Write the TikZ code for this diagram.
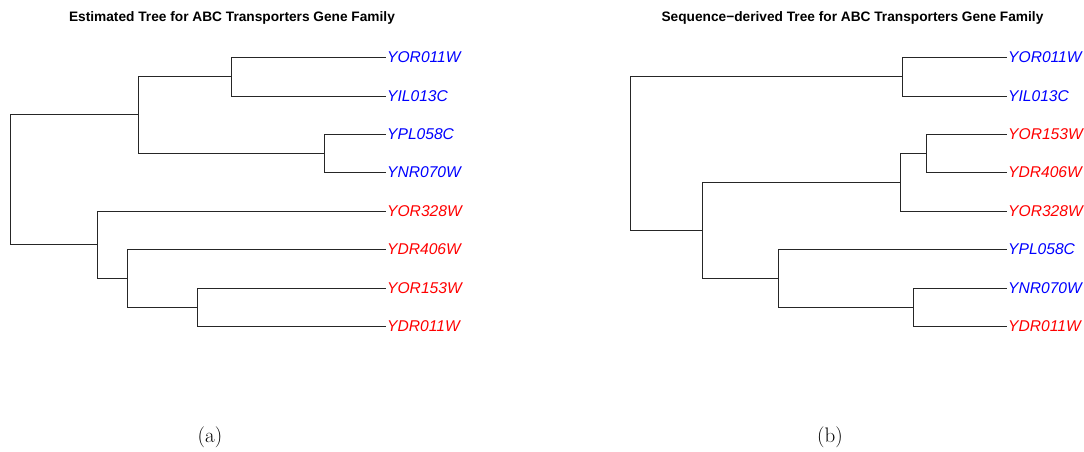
\documentclass[tikz,border=0pt]{standalone}
\usepackage{fontspec}
\newfontfamily\arialfont{Liberation Sans}
\definecolor{lblue}{RGB}{0,0,255}
\definecolor{lred}{RGB}{255,0,0}
\begin{document}
\begin{tikzpicture}[x=1pt,y=-1pt,
  edge/.style={draw=black!85, line width=0.9pt},
  leaf/.style={anchor=west, inner sep=1pt, font=\arialfont\itshape\fontsize{15.6}{18}\selectfont},
  ttl/.style={font=\arialfont\bfseries\fontsize{13.7}{16}\selectfont},
  subcap/.style={font=\fontsize{21}{24}\selectfont}]
\useasboundingbox (0,0) rectangle (1084,451);
% ---------- left tree ----------
\node[ttl] (ta) at (232,18) {Estimated Tree for ABC Transporters Gene Family};
\node[leaf,text=lblue] (a1) at (386,57) {YOR011W};
\node[leaf,text=lblue] (a2) at (386,96) {YIL013C};
\node[leaf,text=lblue] (a3) at (386,134) {YPL058C};
\node[leaf,text=lblue] (a4) at (386,172) {YNR070W};
\node[leaf,text=lred] (a5) at (386,211) {YOR328W};
\node[leaf,text=lred] (a6) at (386,249) {YDR406W};
\node[leaf,text=lred] (a7) at (386,288) {YOR153W};
\node[leaf,text=lred] (a8) at (386,326) {YDR011W};
\coordinate (aB) at (231,76.5);
\coordinate (aC) at (324,153);
\coordinate (aA) at (138,114.75);
\coordinate (aF) at (197,307);
\coordinate (aE) at (127,278);
\coordinate (aD) at (97,244.5);
\coordinate (aR) at (10,179.6);
\draw[edge] (aB) |- (a1.west);
\draw[edge] (aB) |- (a2.west);
\draw[edge] (aC) |- (a3.west);
\draw[edge] (aC) |- (a4.west);
\draw[edge] (aA) |- (aB);
\draw[edge] (aA) |- (aC);
\draw[edge] (aF) |- (a7.west);
\draw[edge] (aF) |- (a8.west);
\draw[edge] (aE) |- (a6.west);
\draw[edge] (aE) |- (aF);
\draw[edge] (aD) |- (a5.west);
\draw[edge] (aD) |- (aE);
\draw[edge] (aR) |- (aA);
\draw[edge] (aR) |- (aD);
\node[subcap] (ca) at (210,437) {(a)};
% ---------- right tree ----------
\node[ttl] (tb) at (852.5,18) {Sequence\textminus derived Tree for ABC Transporters Gene Family};
\node[leaf,text=lblue] (b1) at (1007,57) {YOR011W};
\node[leaf,text=lblue] (b2) at (1007,96) {YIL013C};
\node[leaf,text=lred] (b3) at (1007,134) {YOR153W};
\node[leaf,text=lred] (b4) at (1007,172) {YDR406W};
\node[leaf,text=lred] (b5) at (1007,211) {YOR328W};
\node[leaf,text=lblue] (b6) at (1007,249) {YPL058C};
\node[leaf,text=lblue] (b7) at (1007,288) {YNR070W};
\node[leaf,text=lred] (b8) at (1007,326) {YDR011W};
\coordinate (bP) at (902,76.5);
\coordinate (bR) at (926,153);
\coordinate (bQ) at (900,182);
\coordinate (bU) at (913,307);
\coordinate (bT) at (778,278);
\coordinate (bS) at (702,230);
\coordinate (bO) at (630,153.25);
\draw[edge] (bP) |- (b1.west);
\draw[edge] (bP) |- (b2.west);
\draw[edge] (bR) |- (b3.west);
\draw[edge] (bR) |- (b4.west);
\draw[edge] (bQ) |- (bR);
\draw[edge] (bQ) |- (b5.west);
\draw[edge] (bU) |- (b7.west);
\draw[edge] (bU) |- (b8.west);
\draw[edge] (bT) |- (b6.west);
\draw[edge] (bT) |- (bU);
\draw[edge] (bS) |- (bQ);
\draw[edge] (bS) |- (bT);
\draw[edge] (bO) |- (bP);
\draw[edge] (bO) |- (bS);
\node[subcap] (cb) at (830,437) {(b)};
\end{tikzpicture}
\end{document}
